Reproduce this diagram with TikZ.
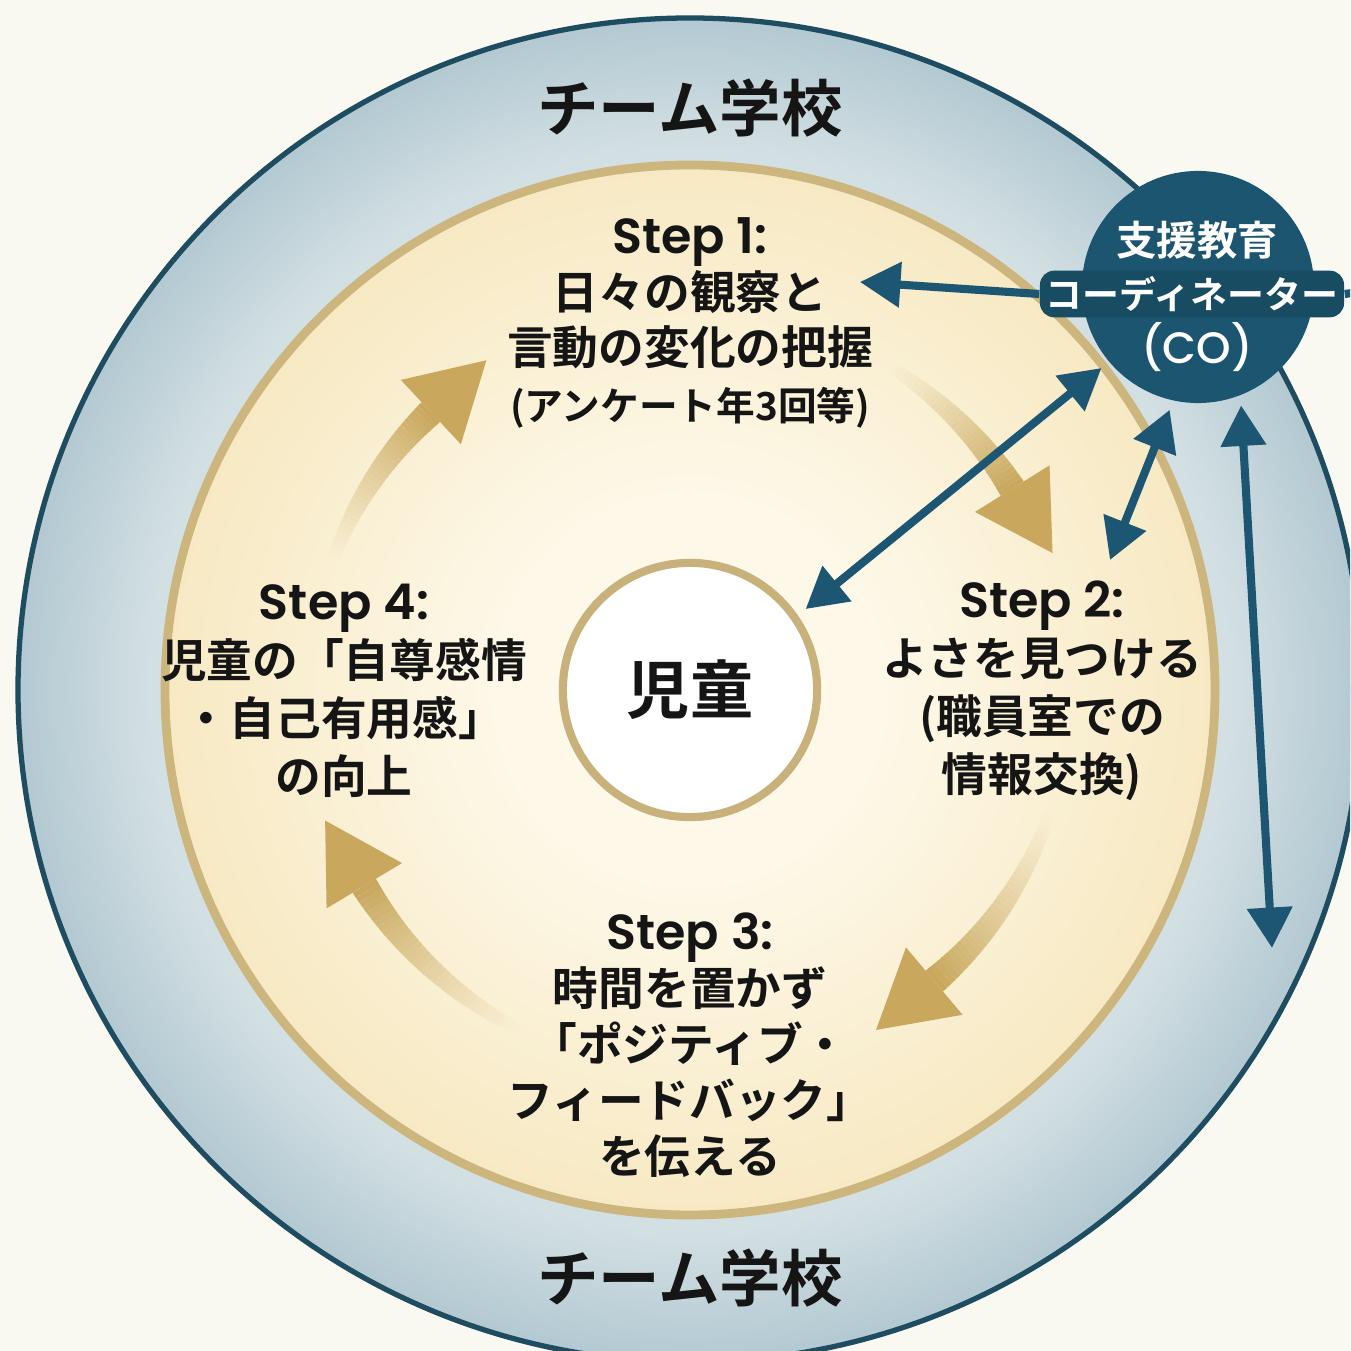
\documentclass[tikz,border=0pt]{standalone}
\usepackage{fontspec}
\setmainfont{Noto Sans CJK JP}[BoldFont={Noto Sans CJK JP Bold}]
\newfontfamily\latinf{Poppins}[UprightFont={* Medium}, BoldFont={* SemiBold}]
\usetikzlibrary{arrows.meta,calc}
\definecolor{bg}{HTML}{FAF9F1}
\definecolor{bandin}{HTML}{D3E0E3}
\definecolor{bandout}{HTML}{B3C9D2}
\definecolor{ringdark}{HTML}{1E4D61}
\definecolor{yelc}{HTML}{FDF8E8}
\definecolor{yele}{HTML}{F7E9C3}
\definecolor{goldring}{HTML}{CDB57E}
\definecolor{goldc}{HTML}{C9A85E}
\definecolor{tealc}{HTML}{1D5672}
\definecolor{cofill}{HTML}{1B5570}
\definecolor{codark}{HTML}{184C63}
\definecolor{childring}{HTML}{C8B17A}
\definecolor{textc}{HTML}{151515}
\newcommand{\stp}[1]{{\latinf\bfseries\fontsize{14}{16}\selectfont #1}}
% gold fading arc arrow: #1 tail angle, #2 tip angle (clockwise)
\newcommand{\goldarc}[2]{%
  \pgfmathsetmacro{\gb}{#2+11}%
  \foreach \i in {0,...,35}{%
    \pgfmathsetmacro{\ga}{#1+(\gb-(#1))*\i/36}%
    \pgfmathsetmacro{\gc}{#1+(\gb-(#1))*(\i+1)/36}%
    \pgfmathsetmacro{\go}{((\i+1)/36)^1.3}%
    \pgfmathsetmacro{\gw}{(12+15*\i/35)*0.28453}%
    \draw[draw=goldc, line width=\gw pt, opacity=\go] (\ga:380) arc[start angle=\ga, end angle=\gc, radius=380];
  }%
  \fill[goldc] (\gb:336) -- ($(\gb:380)+(\gb-90:76)$) -- (\gb:424) -- cycle;
}
\begin{document}
\begin{tikzpicture}[x=0.01cm,y=0.01cm,
  teamtext/.style={font=\bfseries\fontsize{17.5}{20}\selectfont, text=textc, inner sep=0},
  steptext/.style={align=center, font=\bfseries\fontsize{13}{16.5}\selectfont, text=textc, inner sep=0},
  childc/.style={circle, draw=childring, line width=2.3pt, fill=white, minimum size=72.3pt, inner sep=0, outer sep=4pt, font=\bfseries\fontsize{18}{20}\selectfont, text=textc},
  cocirc/.style={circle, fill=cofill, minimum size=66pt, inner sep=0, outer sep=2.85pt},
  cotext/.style={text=white, font=\bfseries\fontsize{11.5}{15}\selectfont, inner sep=0},
  tealline/.style={draw=tealc, line width=2.3pt},
  tealtip/.tip={Triangle[length=11.5pt,width=12.5pt]}
]
\clip (0,0) rectangle (1350,1351);
\fill[bg] (0,0) rectangle (1350,1351);
\coordinate (C) at (690,661);
% blue band: opaque concentric rings, outer darker
\foreach \r in {672,669,...,525}{%
  \pgfmathtruncatemacro{\p}{min(100,(672-\r)/130*100)}%
  \fill[bandin!\p!bandout] (C) circle[radius=\r];}
\draw[ringdark, line width=1.5pt] (C) circle[radius=672];
% yellow disc: opaque concentric rings, lighter to the centre
\foreach \r in {525,520,...,150}{%
  \pgfmathtruncatemacro{\p}{min(100,(525-\r)/330*100)}%
  \fill[yelc!\p!yele] (C) circle[radius=\r];}
\draw[goldring, line width=2.5pt] (C) circle[radius=525];

\node[teamtext] (teamtop) at (690,1243) {チーム学校};
\node[teamtext] (teambot) at (690,73) {チーム学校};

\begin{scope}[shift={(C)}]
  \goldarc{160}{122}
  \goldarc{58}{21}
  \goldarc{-19}{-61}
  \goldarc{-117}{-160}
\end{scope}

\node[childc] (child) at (C) {児童};

\node[steptext, font=\bfseries\fontsize{13}{15.8}\selectfont] (s1) at (690,1028)
  {\stp{Step 1:}\\日々の観察と\\言動の変化の把握\\{\fontsize{11}{15.8}\selectfont (アンケート年3回等)}};
\node[steptext] (s2) at (1042,660)
  {\stp{Step 2:}\\よさを見つける\\(職員室での\\情報交換)};
\node[steptext, font=\bfseries\fontsize{13}{15.9}\selectfont] (s3) at (690,306)
  {\stp{Step 3:}\\時間を置かず\\「ポジティブ・\\フィードバック」\\を伝える};
\node[steptext] (s4) at (344,660)
  {\stp{Step 4:}\\児童の「自尊感情\\・自己有用感」\\の向上};

\node[cocirc] (co) at (1198,1064) {};
\node[cotext] (cot1) at (1197,1111) {支援教育};
\node[cotext, font=\bfseries\fontsize{10.5}{15}\selectfont, fill=codark, rounded corners=4pt, inner sep=1.6pt] (cot2) at (1192,1057) {コーディネーター};
\node[cotext, font=\latinf\fontsize{12.5}{15}\selectfont] (cot3) at (1197,1004) {(CO)};

\coordinate (s1right) at (860,1069);
\coordinate (s2top) at (1110,791);
\coordinate (cobot) at (1272,403);
\coordinate (edge) at (1360,1059);

\draw[tealline, -tealtip] (cot2.west) -- (s1right);
\draw[tealline] (cot2.east) -- (edge);
\draw[tealline, tealtip-tealtip] (co.220) -- (child.35);
\draw[tealline, tealtip-tealtip] (co.257) -- (s2top);
\draw[tealline, tealtip-tealtip] (co.290) -- (cobot);
\end{tikzpicture}
\end{document}
